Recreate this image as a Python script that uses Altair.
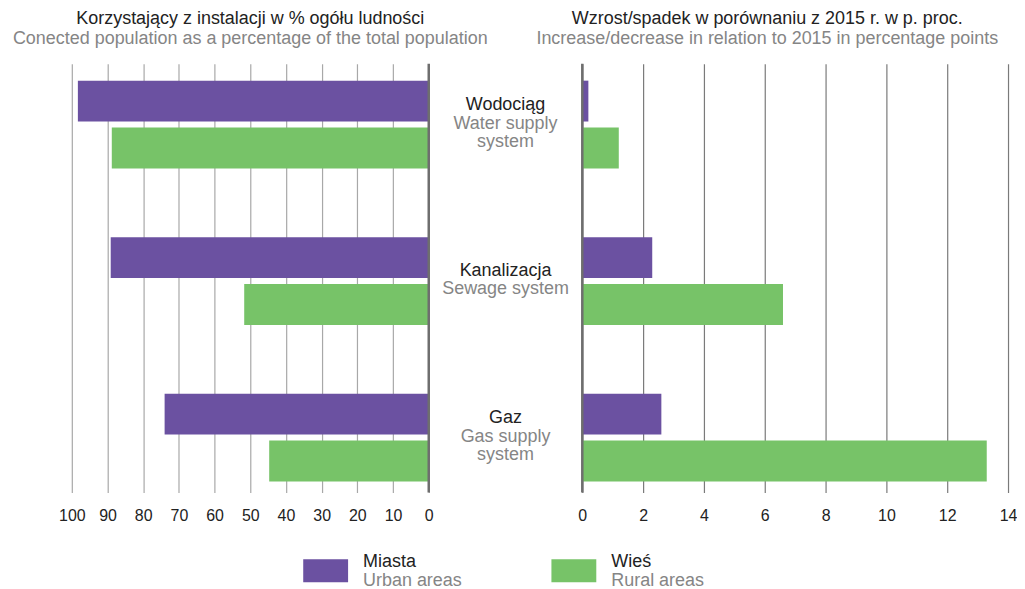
import altair as alt
import pandas as pd

categories = ["Wodociąg", "Kanalizacja", "Gaz"]
categories_en = [["Water supply", "system"], ["Sewage system"], ["Gas supply", "system"]]
series = ["Miasta", "Wieś"]
series_en = ["Urban areas", "Rural areas"]
share_urban = [98.3, 89.1, 74.0]
share_rural = [88.8, 51.7, 44.7]
change_urban = [0.2, 2.3, 2.6]
change_rural = [1.2, 6.6, 13.3]
left_ticks = list(range(0, 101, 10))
right_ticks = list(range(0, 15, 2))

PURPLE = "#6B51A1"
GREEN = "#77C368"
DARK = "#222222"
GREY = "#858585"
FONT = "Liberation Sans"

rows = []
for i, c in enumerate(categories):
    rows.append({"category": c, "series": series[0], "share": share_urban[i], "change": change_urban[i]})
    rows.append({"category": c, "series": series[1], "share": share_rural[i], "change": change_rural[i]})
df = pd.DataFrame(rows)

txt_rows = []
for c, en in zip(categories, categories_en):
    lines = [c] + en
    n = len(lines)
    for j, t in enumerate(lines):
        txt_rows.append({"category": c, "text": t, "role": "name" if j == 0 else "sub",
                         "pos": j - (n - 1) / 2})
tdf = pd.DataFrame(txt_rows)

H = 430
yenc = alt.Y("category:N", sort=categories, axis=None,
             scale=alt.Scale(paddingInner=0.4395, paddingOuter=0.0892, align=0.607))
yoff = alt.YOffset("series:N", sort=series,
                   scale=alt.Scale(paddingInner=0.128, paddingOuter=0))
color = alt.Color("series:N", scale=alt.Scale(domain=series, range=[PURPLE, GREEN]), legend=None)

def xaxis(vals, gcol):
    return alt.Axis(values=vals, grid=True, gridColor=gcol, gridWidth=1.2, domain=False, ticks=False,
                    labelPadding=15, labelFontSize=16, labelColor=DARK, labelFont=FONT, title=None,
                    labelFlush=False, labelOverlap=False)

def ttl(text, sub, dx=0):
    return alt.Title(text=text, subtitle=sub, fontSize=18, subtitleFontSize=18, color=DARK,
                     subtitleColor=GREY, font=FONT, subtitleFont=FONT, fontWeight="normal",
                     anchor="middle", offset=15, subtitlePadding=2, dx=dx)

zero_df = pd.DataFrame({"zero": [0]})

left_axis = xaxis(left_ticks, "#A8A8A8")
left_scale = alt.Scale(domain=[0, 100], reverse=True, nice=False)
left_bars = alt.Chart(df).mark_bar().encode(
    x=alt.X("share:Q", scale=left_scale, axis=left_axis),
    y=yenc, yOffset=yoff, color=color)
left_zero = alt.Chart(zero_df).mark_rule(color="#6E6E6E", strokeWidth=2.5).encode(
    x=alt.X("zero:Q", scale=left_scale, axis=left_axis))
left = alt.layer(left_bars, left_zero).properties(
    width=358, height=H,
    title=ttl("Korzystający z instalacji w % ogółu ludności",
              "Conected population as a percentage of the total population"))

right_axis = xaxis(right_ticks, "#7A7A7A")
right_scale = alt.Scale(domain=[0, 14], nice=False)
right_bars = alt.Chart(df).mark_bar().encode(
    x=alt.X("change:Q", scale=right_scale, axis=right_axis),
    y=yenc, yOffset=yoff, color=color)
right_zero = alt.Chart(zero_df).mark_rule(color="#6E6E6E", strokeWidth=2.5).encode(
    x=alt.X("zero:Q", scale=right_scale, axis=right_axis))
right = alt.layer(right_bars, right_zero).properties(
    width=427, height=H,
    title=ttl("Wzrost/spadek w porównaniu z 2015 r. w p. proc.",
              "Increase/decrease in relation to 2015 in percentage points", dx=-28))

BW = 88  # band width of each category (two bars + gap)
ypos = alt.YOffset("pos:Q", scale=alt.Scale(domain=[-1, 1], range=[BW / 2 - 18.5, BW / 2 + 18.5]))
mid_name = alt.Chart(tdf).transform_filter(alt.datum.role == "name").mark_text(
    fontSize=18, font=FONT, baseline="middle", align="center", dy=-1, color=DARK).encode(
    y=yenc, yOffset=ypos, text="text:N")
mid_sub = alt.Chart(tdf).transform_filter(alt.datum.role == "sub").mark_text(
    fontSize=18, font=FONT, baseline="middle", align="center", dy=-1, color=GREY).encode(
    y=yenc, yOffset=ypos, text="text:N")
mid = alt.layer(mid_name, mid_sub).properties(width=154, height=H)

top = alt.hconcat(left, mid, right, spacing=0, bounds="flush")

leg_df = pd.DataFrame({"series": series, "en": series_en})
leg_x = alt.X("series:N", sort=series, axis=None,
              scale=alt.Scale(paddingInner=0, paddingOuter=0.886, align=0.295))
sw = alt.Chart(leg_df).mark_bar(width=45).encode(x=leg_x, color=color)
nm = alt.Chart(leg_df).mark_text(align="left", dx=37.5, dy=-8.5, fontSize=18, font=FONT,
                                 color=DARK, baseline="middle").encode(x=leg_x, text="series:N")
en = alt.Chart(leg_df).mark_text(align="left", dx=37.5, dy=10, fontSize=18, font=FONT,
                                 color=GREY, baseline="middle").encode(x=leg_x, text="en:N")
legend = alt.layer(sw, nm, en).properties(width=939, height=23)

chart = alt.vconcat(top, legend, spacing=30).properties(
    padding={"left": 4, "top": 0, "right": 0, "bottom": 0}
).configure_view(stroke=None)

chart.save("out.html", embed_options={"renderer": "svg", "actions": False})
